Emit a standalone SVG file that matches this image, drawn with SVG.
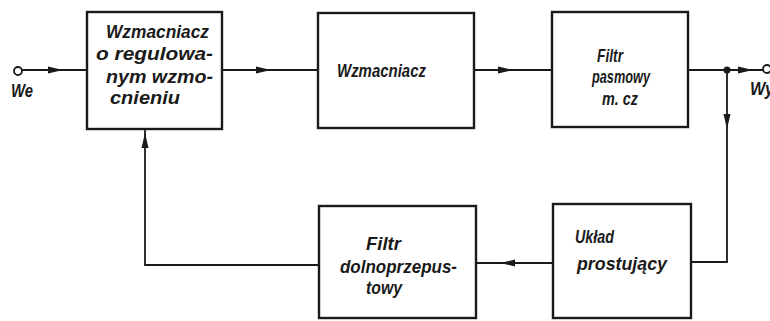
<svg xmlns="http://www.w3.org/2000/svg" xmlns:xlink="http://www.w3.org/1999/xlink" width="770" height="321" viewBox="0 0 770 321">
<style>
.box{fill:none;stroke:#1a1a1a;stroke-width:2.4}
.ln{fill:none;stroke:#1a1a1a;stroke-width:1.8}
.t{font-family:"Liberation Sans",Arial,sans-serif;font-style:italic;font-weight:bold;font-size:18px;fill:#1a1a1a}
.ah{fill:#1a1a1a}
</style>
<defs>
<path id="ah" d="M0,0 L-15,-3.5 L-15,3.5 Z"/>
</defs>
<rect width="770" height="321" fill="#fff"/>
<g id="connectors">
<circle cx="18" cy="71" r="4" fill="#fff" stroke="#1a1a1a" stroke-width="1.8"/>
<line class="ln" x1="22" y1="70" x2="87" y2="70"/>
<line class="ln" x1="222" y1="70" x2="318" y2="70"/>
<line class="ln" x1="474" y1="70" x2="552" y2="70"/>
<line class="ln" x1="688" y1="70" x2="763" y2="70"/>
<circle cx="727" cy="70" r="3.5" fill="#1a1a1a"/>
<circle cx="767" cy="69" r="4" fill="#fff" stroke="#1a1a1a" stroke-width="1.8"/>
<polyline class="ln" points="727,70 727,262 691,262"/>
<line class="ln" x1="553" y1="263" x2="476" y2="263"/>
<polyline class="ln" points="319,265 145,265 145,129"/>
<use href="#ah" class="ah" transform="translate(63,70)"/>
<use href="#ah" class="ah" transform="translate(271,70)"/>
<use href="#ah" class="ah" transform="translate(513,70)"/>
<use href="#ah" class="ah" transform="translate(753,70)"/>
<use href="#ah" class="ah" transform="translate(727,129) rotate(90)"/>
<use href="#ah" class="ah" transform="translate(500,263) rotate(180)"/>
<use href="#ah" class="ah" transform="translate(145,133) rotate(-90)"/>
</g>
<g id="label-we"><text class="t" x="11" y="97" textLength="22" lengthAdjust="spacingAndGlyphs">We</text></g>
<g id="label-wy"><text class="t" x="750" y="95" textLength="24" lengthAdjust="spacingAndGlyphs">Wy</text></g>
<g id="n1">
<rect class="box" x="87" y="12" width="135" height="117"/>
<text class="t" x="106" y="38" textLength="103" lengthAdjust="spacingAndGlyphs">Wzmacniacz</text>
<text class="t" x="96" y="60" textLength="117" lengthAdjust="spacingAndGlyphs">o regulowa-</text>
<text class="t" x="106" y="83" textLength="107" lengthAdjust="spacingAndGlyphs">nym wzmo-</text>
<text class="t" x="110" y="104" textLength="70" lengthAdjust="spacingAndGlyphs">cnieniu</text>
</g>
<g id="n2">
<rect class="box" x="318" y="13" width="156" height="115"/>
<text class="t" x="337" y="77" textLength="89" lengthAdjust="spacingAndGlyphs">Wzmacniacz</text>
</g>
<g id="n3">
<rect class="box" x="552" y="12" width="136" height="115"/>
<text class="t" x="597" y="62" textLength="26" lengthAdjust="spacingAndGlyphs">Filtr</text>
<text class="t" x="592" y="83" textLength="58" lengthAdjust="spacingAndGlyphs">pasmowy</text>
<text class="t" x="602" y="105" textLength="36" lengthAdjust="spacingAndGlyphs">m. cz</text>
</g>
<g id="n4">
<rect class="box" x="553" y="204" width="138" height="114"/>
<text class="t" x="575" y="243" textLength="39" lengthAdjust="spacingAndGlyphs">Układ</text>
<text class="t" x="577" y="270" textLength="90" lengthAdjust="spacingAndGlyphs">prostujący</text>
</g>
<g id="n5">
<rect class="box" x="319" y="206" width="157" height="112"/>
<text class="t" x="366" y="250" textLength="35" lengthAdjust="spacingAndGlyphs">Filtr</text>
<text class="t" x="340" y="273" textLength="117" lengthAdjust="spacingAndGlyphs">dolnoprzepus-</text>
<text class="t" x="366" y="294" textLength="36" lengthAdjust="spacingAndGlyphs">towy</text>
</g>
</svg>
